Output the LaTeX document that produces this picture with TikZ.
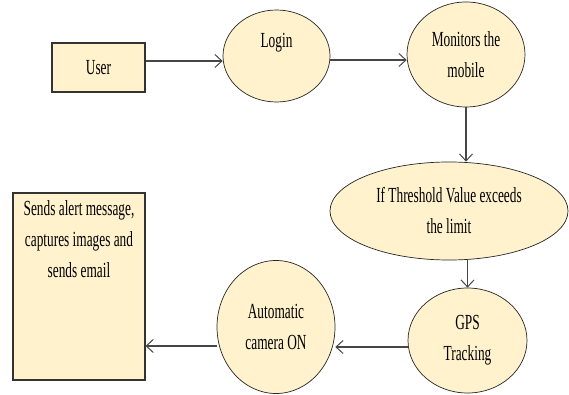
\documentclass[tikz,border=0pt]{standalone}
\usepackage{fontspec}
\setmainfont[FakeStretch=0.62]{Liberation Serif}
\usetikzlibrary{shapes,arrows.meta,positioning}
\definecolor{paleyellow}{RGB}{255,242,204}
\definecolor{linegray}{RGB}{70,70,70}

\begin{document}
\begin{tikzpicture}[x=1pt, y=-1pt, font=\fontsize{21.5}{31}\selectfont]
    % Define styles
    \tikzstyle{entity} = [rectangle, draw=black!80, line width=1.1pt, fill=paleyellow, inner sep=0pt]
    \tikzstyle{process} = [ellipse, draw=black!85, line width=0.7pt, fill=paleyellow, inner sep=0pt, align=center]
    \tikzstyle{arrow} = [draw=linegray, line width=1.8pt, -{Straight Barb[length=7pt,width=13pt,line width=1pt]}]
    \useasboundingbox (0,0) rectangle (569,395);

    % Nodes
    \node [entity, minimum width=93pt, minimum height=49pt] (user) at (98.5,67.5) {User};
    \node [process, minimum width=107pt, minimum height=92pt] (login) at (276.5,56) {Login\\ ~};
    \node [process, minimum width=118pt, minimum height=105pt] (monitors) at (466,54.5) {Monitors the\\mobile};
    \node [process, minimum width=238pt, minimum height=98pt] (threshold) at (449,211) {If Threshold Value exceeds\\the limit};
    \node [process, minimum width=119pt, minimum height=105pt] (gps) at (467.5,340.5) {GPS\\Tracking};
    \node [process, minimum width=118pt, minimum height=133pt] (camera) at (276,327) {Automatic\\camera ON};
    \node [entity, minimum width=132pt, minimum height=187pt,
           label={[anchor=north, align=center, yshift=-5pt]north:{Sends alert message,\\captures images and\\sends email}}] (alert) at (79,286.5) {};

    % Arrows
    \draw [arrow] ([yshift=6.5pt]user.east) -- ([yshift=6.5pt]user.east -| login.west);
    \draw [arrow] ([yshift=-4pt]login.east) -- ([yshift=-4pt]login.east -| monitors.west);
    \draw [arrow] (monitors.south) -- (monitors.south |- threshold.north);
    \draw [arrow] (gps.north |- threshold.south) -- (gps.north);
    \draw [arrow] ([yshift=-6.5pt]gps.west) -- ([yshift=-6.5pt]gps.west -| camera.east);
    \draw [arrow] ([yshift=-19pt]camera.west) -- ([yshift=-19pt]camera.west -| alert.east);
\end{tikzpicture}
\end{document}
